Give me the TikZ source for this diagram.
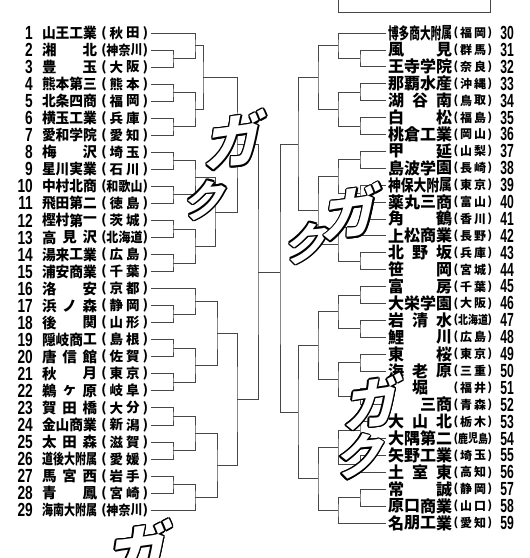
\documentclass[tikz,border=0pt]{standalone}
\usepackage{fontspec}
\newfontfamily\jp{Noto Sans CJK JP}
\newfontfamily\numfont{Liberation Sans}
\usetikzlibrary{calc}
\tikzset{
  br/.style={draw=black!72, line width=0.8pt},
  chr/.style={inner sep=0pt, outer sep=0pt, text=black},
  numL/.style={inner sep=0pt, font=\fontsize{19}{19}\selectfont\numfont\bfseries},
  numR/.style={inner sep=0pt, font=\fontsize{19}{19}\selectfont\numfont\bfseries},
  parL/.style={inner sep=0pt, font=\fontsize{13}{13}\selectfont\jp\bfseries},
  parR/.style={inner sep=0pt, font=\fontsize{11.5}{11.5}\selectfont\jp\bfseries},
  sfxb/.style={inner sep=0pt, text=black},
  sfxw/.style={inner sep=0pt, text=white},
}
% justified characters: #1 x-left, #2 width, #3 y, #4 font size, #5 count, #6 list, #7 prefix
\newcommand\justrow[7]{%
  \pgfmathsetmacro\cw{min(#4,#2/#5)}%
  \pgfmathsetmacro\sx{\cw/#4}%
  \ifnum#5=1 \pgfmathsetmacro\st{0}\pgfmathsetmacro\xo{#1+#2/2-\cw/2}%
  \else \pgfmathsetmacro\st{(#2-\cw)/(#5-1)}\pgfmathsetmacro\xo{#1}\fi
  \foreach \ch [count=\kk] in {#6} {%
    \pgfmathsetmacro\xx{\xo+\cw/2+(\kk-1)*\st}%
    \node[chr, font=\fontsize{#4}{#4}\selectfont\jp\bfseries] (#7-\kk) at (\xx,#3) {\scalebox{\sx}[1]{\ch}};
  }%
}
\newcommand\teamL[5]{%
  \pgfmathsetmacro\yy{33+17.04*(#1-1)}%
  \node[numL, anchor=east] (nL#1) at (33,\yy) {\scalebox{0.72}[1]{#1}};
  \justrow{42}{55}{\yy}{14.5}{#2}{#3}{mL#1}
  \node[parL] (oL#1) at (104,\yy) {(};
  \pgfmathsetmacro\pw{min(36,#4*15)}\pgfmathsetmacro\pl{124.5-\pw/2}%
  \justrow{\pl}{\pw}{\yy}{13.5}{#4}{#5}{pL#1}
  \node[parL] (cL#1) at (145.5,\yy) {)};
  \coordinate (tL#1) at (151,\yy);
}
\newcommand\teamRg[7]{%
  \pgfmathsetmacro\yy{33+16.9*(#1-30)}%
  \coordinate (tR#1) at (386,\yy);
  \justrow{#2}{#3}{\yy}{16}{#4}{#5}{mR#1}
  \node[parR] (oR#1) at (456,\yy) {(};
  \pgfmathsetmacro\pw{min(30,#6*13)}\pgfmathsetmacro\pl{473-\pw/2}%
  \justrow{\pl}{\pw}{\yy}{12}{#6}{#7}{pR#1}
  \node[parR] (cR#1) at (490,\yy) {)};
  \node[numR, anchor=east] (nR#1) at (514,\yy) {\scalebox{0.64}[1]{#1}};
}
\newcommand\teamR[5]{\teamRg{#1}{388}{64}{#2}{#3}{#4}{#5}}
% bracket match: #1 name, #2 a, #3 b, #4 x reference
\newcommand\bmatch[4]{%
  \coordinate (#1m) at ($(#2)!.5!(#3)$);
  \coordinate (#1) at (#1m -| #4);
  \draw[br] (#2) -| (#1) |- (#3);
}
% outlined sound effect: #1 name, #2 x, #3 y, #4 size, #5 transform, #6 text
\newcommand\sfxtext[6]{%
  \begin{scope}[shift={(#2,#3)}]
    \foreach \aa in {0,30,...,330} {%
      \node[sfxb, #5, font=\fontsize{#4}{#4}\selectfont\jp\bfseries] (#1-\aa) at ({1.5*cos(\aa)},{1.5*sin(\aa)}) {#6};
    }
    \node[sfxw, #5, font=\fontsize{#4}{#4}\selectfont\jp\bfseries] (#1) at (0,0) {#6};
  \end{scope}
}
\begin{document}
\begin{tikzpicture}[x=1pt, y=-1pt]
\fill[white] (0,0) rectangle (530,558);
\useasboundingbox (0,0) rectangle (530,558);

% level references
\coordinate (L1) at (173,0); \coordinate (L2) at (195,0);
\coordinate (L3a) at (203,0); \coordinate (L3b) at (215,0); \coordinate (L3) at (217,0);
\coordinate (L4) at (237,0); \coordinate (L5) at (258,0);
\coordinate (R1) at (360,0); \coordinate (R2) at (338,0);
\coordinate (R3) at (318,0); \coordinate (R4) at (298,0); \coordinate (R5) at (280,0);

% top box
\coordinate (bx1) at (338,-3); \coordinate (bx2) at (490,-3); \coordinate (bxa) at (338,12);
\draw[br] (bx1) -- (bxa) -- (bxa -| bx2) -- (bx2);

% left teams
\teamL{1}{4}{山,王,工,業}{2}{秋,田}
\teamL{2}{2}{湘,北}{3}{神,奈,川}
\teamL{3}{2}{豊,玉}{2}{大,阪}
\teamL{4}{4}{熊,本,第,三}{2}{熊,本}
\teamL{5}{4}{北,条,四,商}{2}{福,岡}
\teamL{6}{4}{横,玉,工,業}{2}{兵,庫}
\teamL{7}{4}{愛,和,学,院}{2}{愛,知}
\teamL{8}{2}{梅,沢}{2}{埼,玉}
\teamL{9}{4}{星,川,実,業}{2}{石,川}
\teamL{10}{4}{中,村,北,商}{3}{和,歌,山}
\teamL{11}{4}{飛,田,第,二}{2}{徳,島}
\teamL{12}{4}{樫,村,第,一}{2}{茨,城}
\teamL{13}{3}{高,見,沢}{3}{北,海,道}
\teamL{14}{4}{湯,来,工,業}{2}{広,島}
\teamL{15}{4}{浦,安,商,業}{2}{千,葉}
\teamL{16}{2}{洛,安}{2}{京,都}
\teamL{17}{3}{浜,ノ,森}{2}{静,岡}
\teamL{18}{2}{後,関}{2}{山,形}
\teamL{19}{4}{隠,岐,商,工}{2}{島,根}
\teamL{20}{3}{唐,信,館}{2}{佐,賀}
\teamL{21}{2}{秋,月}{2}{東,京}
\teamL{22}{3}{鵜,ヶ,原}{2}{岐,阜}
\teamL{23}{3}{賀,田,橋}{2}{大,分}
\teamL{24}{4}{金,山,商,業}{2}{新,潟}
\teamL{25}{3}{太,田,森}{2}{滋,賀}
\teamL{26}{5}{道,後,大,附,属}{2}{愛,媛}
\teamL{27}{3}{馬,宮,西}{2}{岩,手}
\teamL{28}{2}{青,鳳}{2}{宮,崎}
\teamL{29}{5}{海,南,大,附,属}{3}{神,奈,川}

% right teams
\teamR{30}{6}{博,多,商,大,附,属}{2}{福,岡}
\teamR{31}{2}{風,見}{2}{群,馬}
\teamR{32}{4}{王,寺,学,院}{2}{奈,良}
\teamR{33}{4}{那,覇,水,産}{2}{沖,縄}
\teamR{34}{3}{湖,谷,南}{2}{鳥,取}
\teamR{35}{2}{白,松}{2}{福,島}
\teamR{36}{4}{桃,倉,工,業}{2}{岡,山}
\teamR{37}{2}{甲,延}{2}{山,梨}
\teamR{38}{4}{島,波,学,園}{2}{長,崎}
\teamR{39}{5}{神,保,大,附,属}{2}{東,京}
\teamR{40}{4}{薬,丸,三,商}{2}{富,山}
\teamR{41}{2}{角,鶴}{2}{香,川}
\teamR{42}{4}{上,松,商,業}{2}{長,野}
\teamR{43}{3}{北,野,坂}{2}{兵,庫}
\teamR{44}{2}{笹,岡}{2}{宮,城}
\teamR{45}{2}{富,房}{2}{千,葉}
\teamR{46}{4}{大,栄,学,園}{2}{大,阪}
\teamR{47}{3}{岩,清,水}{3}{北,海,道}
\teamR{48}{2}{鯉,川}{2}{広,島}
\teamR{49}{2}{東,桜}{2}{東,京}
\teamR{50}{3}{海,老,原}{2}{三,重}
\teamRg{51}{404}{32}{1}{堀}{2}{福,井}
\teamRg{52}{420}{32}{2}{三,商}{2}{青,森}
\teamR{53}{3}{大,山,北}{2}{栃,木}
\teamR{54}{4}{大,隅,第,二}{3}{鹿,児,島}
\teamR{55}{4}{矢,野,工,業}{2}{埼,玉}
\teamR{56}{3}{土,室,東}{2}{高,知}
\teamR{57}{2}{常,誠}{2}{静,岡}
\teamR{58}{4}{原,口,商,業}{2}{山,口}
\teamR{59}{4}{名,朋,工,業}{2}{愛,知}

% left bracket
\bmatch{p23}{tL2}{tL3}{L1}
\bmatch{A}{tL1}{p23}{L2}
\bmatch{p45}{tL4}{tL5}{L1}
\bmatch{p67}{tL6}{tL7}{L1}
\bmatch{B}{p45}{p67}{L2}
\bmatch{AB}{A}{B}{L3a}
\bmatch{p89}{tL8}{tL9}{L1}
\bmatch{p1011}{tL10}{tL11}{L1}
\bmatch{C}{p89}{p1011}{L2}
\bmatch{p1213}{tL12}{tL13}{L1}
\bmatch{p1415}{tL14}{tL15}{L1}
\bmatch{D}{p1213}{p1415}{L2}
\bmatch{CD}{C}{D}{L3b}
\bmatch{Q1}{AB}{CD}{L4}
\bmatch{p1718}{tL17}{tL18}{L1}
\bmatch{E}{tL16}{p1718}{L2}
\bmatch{p1920}{tL19}{tL20}{L1}
\bmatch{p2122}{tL21}{tL22}{L1}
\bmatch{F}{p1920}{p2122}{L2}
\bmatch{EF}{E}{F}{L3}
\bmatch{p2324}{tL23}{tL24}{L1}
\bmatch{p2526}{tL25}{tL26}{L1}
\bmatch{G}{p2324}{p2526}{L2}
\bmatch{p2728}{tL27}{tL28}{L1}
\bmatch{H}{p2728}{tL29}{L2}
\bmatch{GH}{G}{H}{L3}
\bmatch{Q2}{EF}{GH}{L4}
\bmatch{LS}{Q1}{Q2}{L5}

% right bracket
\bmatch{r3132}{tR31}{tR32}{R1}
\bmatch{ra}{tR30}{r3132}{R2}
\bmatch{r3334}{tR33}{tR34}{R1}
\bmatch{r3536}{tR35}{tR36}{R1}
\bmatch{rb}{r3334}{r3536}{R2}
\bmatch{rab}{ra}{rb}{R3}
\bmatch{r3738}{tR37}{tR38}{R1}
\bmatch{r3940}{tR39}{tR40}{R1}
\bmatch{rc}{r3738}{r3940}{R2}
\bmatch{r4142}{tR41}{tR42}{R1}
\bmatch{r4344}{tR43}{tR44}{R1}
\bmatch{rd}{r4142}{r4344}{R2}
\bmatch{rcd}{rc}{rd}{R3}
\bmatch{Q3}{rab}{rcd}{R4}
\bmatch{r4546}{tR45}{tR46}{R1}
\bmatch{r4748}{tR47}{tR48}{R1}
\bmatch{re}{r4546}{r4748}{R2}
\bmatch{r4950}{tR49}{tR50}{R1}
\bmatch{r5152}{tR51}{tR52}{R1}
\bmatch{rf}{r4950}{r5152}{R2}
\bmatch{ref}{re}{rf}{R3}
\bmatch{r5354}{tR53}{tR54}{R1}
\bmatch{r5556}{tR55}{tR56}{R1}
\bmatch{rg}{r5354}{r5556}{R2}
\bmatch{r5758}{tR57}{tR58}{R1}
\bmatch{rh}{r5758}{tR59}{R2}
\bmatch{rgh}{rg}{rh}{R3}
\bmatch{Q4}{ref}{rgh}{R4}
\bmatch{RS}{Q3}{Q4}{R5}

% final
\draw[br] (LS) -- (LS -| RS);

% sound effects
\sfxtext{s1}{236}{140}{58}{rotate=8, xslant=0.3}{ガ}
\sfxtext{s2}{207}{200}{42}{rotate=5, xslant=0.3}{ク}
\sfxtext{s3}{309}{243}{44}{rotate=5, xslant=0.3}{ク}
\sfxtext{s4}{352}{212}{56}{rotate=8, xslant=0.3}{ガ}
\sfxtext{s5}{374}{402}{55}{rotate=8, xslant=0.3}{ガ}
\sfxtext{s6}{362}{456}{48}{rotate=5, xslant=0.3}{ク}
\sfxtext{s7}{140}{552}{62}{rotate=8, xslant=0.3}{ガ}
\end{tikzpicture}
\end{document}
